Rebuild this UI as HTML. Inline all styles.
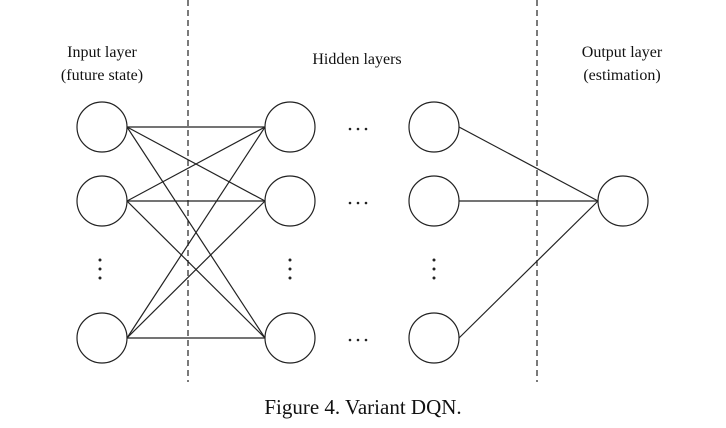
<!DOCTYPE html>
<html><head><meta charset="utf-8"><style>
html,body{margin:0;padding:0;background:#fff}
svg{display:block}
text{font-family:"Liberation Serif",serif;fill:#111}
</style></head><body>
<svg width="726" height="428" viewBox="0 0 726 428">
<g stroke="#222" stroke-width="1.2" stroke-dasharray="6,4" fill="none">
<line x1="188" y1="0" x2="188" y2="382"/>
<line x1="537" y1="0" x2="537" y2="382"/>
</g>
<text x="102" y="57" font-size="16" text-anchor="middle">Input layer</text>
<text x="102" y="80" font-size="16" text-anchor="middle">(future state)</text>
<text x="357" y="64" font-size="16" text-anchor="middle">Hidden layers</text>
<text x="622" y="57" font-size="16" text-anchor="middle">Output layer</text>
<text x="622" y="80" font-size="16" text-anchor="middle">(estimation)</text>
<g id="edges" stroke="#222" stroke-width="1.2"></g>
<g id="nodes" stroke="#222" stroke-width="1.2" fill="#fff"></g>
<g fill="#222">
<circle cx="100" cy="260" r="1.5"/><circle cx="100" cy="269" r="1.5"/><circle cx="100" cy="278" r="1.5"/>
<circle cx="290" cy="260" r="1.5"/><circle cx="290" cy="269" r="1.5"/><circle cx="290" cy="278" r="1.5"/>
<circle cx="434" cy="260" r="1.5"/><circle cx="434" cy="269" r="1.5"/><circle cx="434" cy="278" r="1.5"/>
<circle cx="350" cy="129" r="1.3"/><circle cx="358" cy="129" r="1.3"/><circle cx="366" cy="129" r="1.3"/>
<circle cx="350" cy="203" r="1.3"/><circle cx="358" cy="203" r="1.3"/><circle cx="366" cy="203" r="1.3"/>
<circle cx="350" cy="340" r="1.3"/><circle cx="358" cy="340" r="1.3"/><circle cx="366" cy="340" r="1.3"/>
</g>
<text x="363" y="414" font-size="21" text-anchor="middle">Figure 4. Variant DQN.</text>
</svg>
<script>
const NS="http://www.w3.org/2000/svg";
const r=25;
const rows=[127,201,338];
const L0=102,L1=290,L2=434,L3=623,outY=201;
const E=document.getElementById('edges'),N=document.getElementById('nodes');
function line(x1,y1,x2,y2,name){const l=document.createElementNS(NS,'line');
l.setAttribute('x1',x1);l.setAttribute('y1',y1);l.setAttribute('x2',x2);l.setAttribute('y2',y2);


E.appendChild(l);}
rows.forEach(a=>rows.forEach(b=>line(L0+r,a,L1-r,b,'input-hidden-edge')));
rows.forEach(a=>line(L2+r,a,L3-r,outY,'hidden-output-edge'));
function node(x,y,name){const c=document.createElementNS(NS,'circle');
c.setAttribute('cx',x);c.setAttribute('cy',y);c.setAttribute('r',r);


N.appendChild(c);}
rows.forEach(y=>{node(L0,y,'input-node');node(L1,y,'hidden-node');node(L2,y,'hidden-node');});
node(L3,outY,'output-node');
</script>
</body></html>
